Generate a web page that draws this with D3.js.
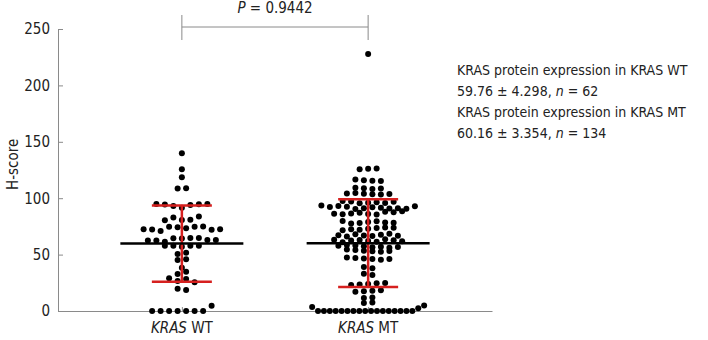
<!DOCTYPE html>
<html><head><meta charset="utf-8">
<script src="https://cdn.jsdelivr.net/npm/d3@7"></script>
<style>
body{margin:0;background:#fff}
svg{display:block}
text{font-family:"DejaVu Sans Condensed","DejaVu Sans",sans-serif;fill:#222}
</style>
</head><body>
<svg id="chart" width="708" height="340"></svg>
<script>
// ---------- data ----------
const categories = ["WT", "MT"];
const categoryLabels = ["WT", "MT"];
const wtValues = [
  139.8, 125.6, 118.5, 108.5, 108.8,
  91.5, 93.1, 94.0, 94.4, 94.6, 94.8, 94.9,
  80.7, 83.0, 80.9, 80.5, 83.8,
  74.2, 73.3, 74.6, 74.8, 71.0, 74.9, 72.2, 72.1, 72.4, 72.4,
  64.3, 64.6, 64.7, 61.5, 64.8, 62.4, 62.9, 62.4, 62.9,
  57.0, 57.9, 57.9, 57.9, 57.9,
  50.5, 51.7, 45.2, 45.8, 38.4, 32.8, 34.9,
  26.6, 28.4, 29.0, 25.4, 19.8, 18.6,
  0, 0, 0, 0, 0, 0, 0, 4.6
];
const mtValues = [
  227.8,
  126.0, 125.6, 126.3,
  116.0, 115.5, 116.5, 115.2,
  108.8, 108.2, 109.2, 108.5,
  104.0, 103.5, 104.5, 103.2, 104.2, 103.8,
  96.0, 95.5, 96.5, 97.0, 95.8, 97.5, 96.8,
  91.0, 92.0, 90.5, 91.5, 92.5, 90.8, 93.0, 91.2, 92.2, 90.6, 93.5, 92.8,
  86.0, 87.0, 85.5, 86.5, 88.0, 85.8, 87.5, 86.2, 88.5,
  79.0, 78.0, 79.5, 77.5, 78.5, 79.8, 78.2,
  73.0, 72.0, 73.5, 72.5, 74.0, 71.5, 73.8,
  67.0, 66.5, 68.0, 67.5, 66.0, 68.5, 67.2, 66.8,
  62.0, 63.0, 61.5, 62.5, 63.5, 61.0, 62.8, 63.2, 61.8,
  57.5, 56.5, 58.0, 57.0, 58.5, 56.0, 57.8, 56.8,
  53.5, 53.0, 54.0, 52.5, 54.5, 53.2,
  46.5, 46.0, 47.0, 45.5, 47.5, 46.2,
  39.0, 38.0, 33.0, 32.0,
  24.0, 23.5, 24.5, 23.0, 24.8,
  17.5, 18.0, 17.0, 18.5,
  11.5, 12.0, 7.0, 7.5,
  0, 0, 0, 0, 0, 0, 0, 0, 0, 0, 0, 0, 0, 0, 0, 0, 0, 2.5, 3.5, 4.9
];
const groupMeans = [59.76, 60.16];
const groupSems = [4.298, 3.354];
const groupNs = [62, 134];
const yTicks = [0, 50, 100, 150, 200, 250];
const pValueText = "0.9442";

// ---------- layout ----------
const svg = d3.select("#chart");
const y = d3.scaleLinear().domain([0, 250]).range([311, 29]);
const x = d3.scalePoint().domain(categories).range([58, 492]).padding(0.665);

const axisColor = "#8a8a8a";
const dotR = 3.0, dotSpacing = 8.5, rowMaxWidth = 112, binSize = 5;

function layoutRows(values) {
  const bins = d3.group(values, v => Math.floor(v / binSize));
  const out = [];
  for (const [, pts] of bins) {
    const n = pts.length;
    const sp = n > 1 ? Math.min(dotSpacing, rowMaxWidth / (n - 1)) : 0;
    const offs = [];
    if (n % 2 === 1) {
      offs.push(0);
      for (let j = 1; offs.length < n; j++) { offs.push(-j); if (offs.length < n) offs.push(j); }
    } else {
      for (let j = 0; offs.length < n; j++) { offs.push(-(j + 0.5)); offs.push(j + 0.5); }
    }
    pts.forEach((v, i) => out.push({ v, dx: offs[i] * sp }));
  }
  return out;
}

// y axis
const yAxis = svg.append("g").attr("transform", "translate(58,0)")
  .call(d3.axisLeft(y).tickValues(yTicks).tickSize(-5).tickSizeOuter(0).tickPadding(8));
yAxis.select(".domain").attr("stroke", axisColor);
yAxis.selectAll(".tick line").attr("stroke", axisColor);
yAxis.selectAll(".tick text").attr("font-size", 15).attr("fill", "#222")
  .attr("font-family", "'DejaVu Sans Condensed','DejaVu Sans',sans-serif");

// x axis
const xAxis = svg.append("g").attr("transform", "translate(0,311)")
  .call(d3.axisBottom(x).tickSize(-4).tickSizeOuter(0).tickFormat(""));
xAxis.select(".domain").attr("stroke", axisColor);
xAxis.selectAll(".tick line").attr("stroke", axisColor);

categories.forEach((c, i) => {
  const t = svg.append("text").attr("x", x(c)).attr("y", 333)
    .attr("text-anchor", "middle").attr("font-size", 15);
  t.append("tspan").attr("font-style", "italic").text("KRAS");
  t.append("tspan").text(" " + categoryLabels[i]);
});

// y label
svg.append("text").attr("transform", `translate(18,${y(130)}) rotate(-90)`)
  .attr("text-anchor", "middle").attr("font-size", 15).text("H-score");

// dots
const groups = [wtValues, mtValues];
groups.forEach((vals, gi) => {
  const cx = x(categories[gi]);
  svg.append("g").selectAll("circle").data(layoutRows(vals)).join("circle")
    .attr("cx", d => cx + d.dx).attr("cy", d => y(d.v)).attr("r", dotR).attr("fill", "#000");
});

// mean & SD
groups.forEach((vals, gi) => {
  const cx = x(categories[gi]);
  const m = groupMeans[gi];
  const sd = groupSems[gi] * Math.sqrt(groupNs[gi]);
  const g = svg.append("g");
  const red = "#d6201f";
  g.append("line").attr("x1", cx).attr("x2", cx).attr("y1", y(m - sd)).attr("y2", y(m + sd))
    .attr("stroke", red).attr("stroke-width", 2.5);
  [m - sd, m + sd].forEach(v => g.append("line").attr("x1", cx - 30).attr("x2", cx + 30)
    .attr("y1", y(v)).attr("y2", y(v)).attr("stroke", red).attr("stroke-width", 2.5));
  g.append("line").attr("x1", cx - 61.5).attr("x2", cx + 61.5).attr("y1", y(m)).attr("y2", y(m))
    .attr("stroke", "#000").attr("stroke-width", 2.5);
});

// significance bracket
const bx1 = x(categories[0]), bx2 = x(categories[1]);
svg.append("path").attr("d", `M${bx1},15V40M${bx1},27H${bx2}M${bx2},15V40`)
  .attr("fill", "none").attr("stroke", axisColor).attr("stroke-width", 1);
const pt = svg.append("text").attr("x", (bx1 + bx2) / 2).attr("y", 13)
  .attr("text-anchor", "middle").attr("font-size", 15);
pt.append("tspan").attr("font-style", "italic").text("P");
pt.append("tspan").text(" = " + pValueText);

// legend text
const fmtM = d3.format(".2f"), fmtS = d3.format(".3f");
categories.forEach((c, i) => {
  const base = 75 + i * 42;
  svg.append("text").attr("x", 457).attr("y", base).attr("font-size", 14)
    .text("KRAS protein expression in KRAS " + categoryLabels[i]);
  const t = svg.append("text").attr("x", 457).attr("y", base + 21).attr("font-size", 14);
  t.append("tspan").text(fmtM(groupMeans[i]) + " \u00B1 " + fmtS(groupSems[i]) + ", ");
  t.append("tspan").attr("font-style", "italic").text("n");
  t.append("tspan").text(" = " + groupNs[i]);
});
</script>
</body></html>
